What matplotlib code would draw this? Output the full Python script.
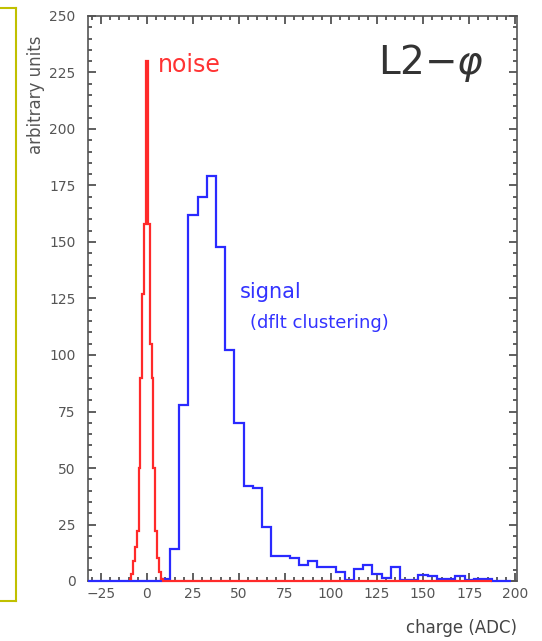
import numpy as np
import matplotlib
matplotlib.use("Agg")
import matplotlib.pyplot as plt
from matplotlib.lines import Line2D
from matplotlib.ticker import MultipleLocator

# noise histogram: 1 ADC bins centred on integers
noise_centers = list(range(-9, 9))
noise_values = [1, 3, 9, 15, 22, 50, 90, 127, 158, 230, 158, 105, 90, 50, 22, 10, 4, 1]
noise_tail_end = 187.5

# signal histogram: 5 ADC bins centred on multiples of 5
signal_centers = list(range(10, 200, 5))
signal_values = [1, 14, 78, 162, 170, 179, 148, 102, 70, 42, 41, 24, 11, 11,
                 10, 7, 9, 6, 6, 4, 0.5, 5.5, 7, 3, 1.5, 6, 0.5, 0.5, 2.5, 2,
                 1, 1, 2, 0.5, 1, 1, 0, 0]
signal_start = -32

x_ticks = [-25, 0, 25, 50, 75, 100, 125, 150, 175, 200]
y_ticks = [0, 25, 50, 75, 100, 125, 150, 175, 200, 225, 250]

fig = plt.figure(figsize=(5.42, 6.41), dpi=100)
ax = fig.add_axes([88 / 542, 60 / 641, 429 / 542, 565 / 641])

# build bin edges from the centres
n_edges = [c - 0.5 for c in noise_centers] + [noise_centers[-1] + 0.5, noise_tail_end]
n_vals = noise_values + [0]
s_edges = [signal_start] + [c - 2.5 for c in signal_centers] + [signal_centers[-1] + 2.5]
s_vals = [0] + signal_values

ax.stairs(s_vals, s_edges, color="#2a2aff", lw=1.6, baseline=None,
          zorder=3, clip_on=False)
ax.stairs(n_vals, n_edges, color="#ff2a2a", lw=1.6, baseline=None,
          zorder=4, clip_on=False)

ax.set_xlim(-32, 201)
ax.set_ylim(0, 250)
ax.set_xticks(x_ticks)
ax.set_yticks(y_ticks)
ax.xaxis.set_minor_locator(MultipleLocator(5))
ax.yaxis.set_minor_locator(MultipleLocator(5))
ax.tick_params(which="both", direction="in", top=True, right=True,
               color="#444444", width=1.2, labelcolor="#555555", labelsize=10)
ax.tick_params(which="major", length=6)
ax.tick_params(which="minor", length=3)
ax.tick_params(axis="y", which="both", pad=9)
ax.tick_params(axis="x", which="both", pad=4)
ax.tick_params(right=True, labelright=False, top=True, labeltop=False)
for sp in ax.spines.values():
    sp.set_color("#555555")
    sp.set_linewidth(1.2)

ax.text(6, 225, "noise", color="#ff3333", fontsize=17, va="baseline", ha="left")
ax.text(50.5, 125, "signal", color="#3333ff", fontsize=15, va="baseline", ha="left")
ax.text(56, 112, "(dflt clustering)", color="#3333ff", fontsize=13, va="baseline", ha="left")
ax.text(125.5, 224.5, r"L2$-\varphi$", color="#333333", fontsize=28, va="baseline", ha="left")

fig.text(36 / 542, 1 - 95 / 641, "arbitrary units", rotation=90, color="#555555",
         fontsize=12, ha="center", va="center")
fig.text(517 / 542, 1 - 628 / 641, "charge (ADC)", color="#444444",
         fontsize=12, ha="right", va="center")

# olive frame edge from the slide on the left
frame_col = "#c0c000"
fig.add_artist(Line2D([16 / 542, 16 / 542], [1 - 8 / 641, 1 - 601 / 641],
                      transform=fig.transFigure, color=frame_col, lw=1.5))
fig.add_artist(Line2D([0, 16 / 542], [1 - 8 / 641, 1 - 8 / 641],
                      transform=fig.transFigure, color=frame_col, lw=1.5))
fig.add_artist(Line2D([0, 16 / 542], [1 - 601 / 641, 1 - 601 / 641],
                      transform=fig.transFigure, color=frame_col, lw=1.5))

fig.savefig("out.png", dpi=100)
